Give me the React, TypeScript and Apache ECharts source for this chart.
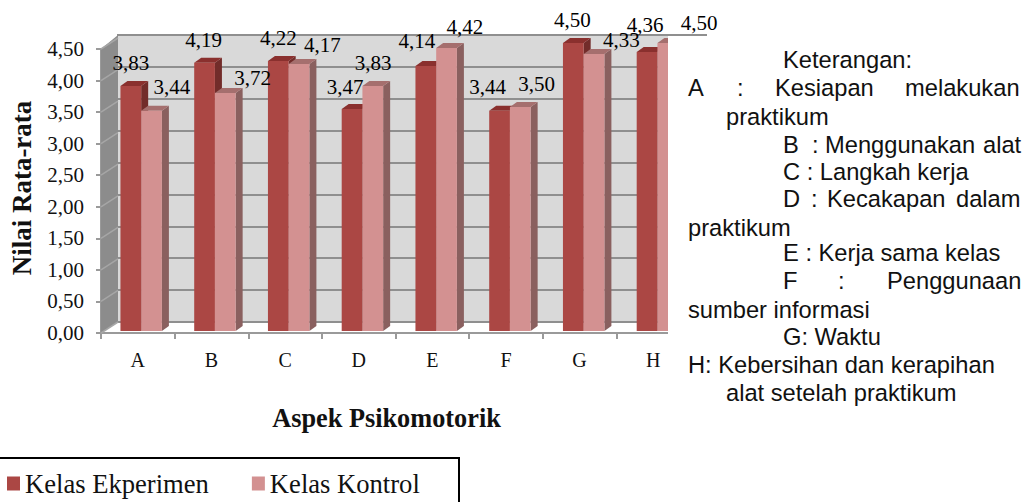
import React, { useEffect, useRef } from "react";
import * as echarts from "echarts";

const categories = ["A", "B", "C", "D", "E", "F", "G", "H"];
const eksperimen = [3.83, 4.19, 4.22, 3.47, 4.14, 3.44, 4.5, 4.36];
const kontrol = [3.44, 3.72, 4.17, 3.83, 4.42, 3.5, 4.33, 4.5];
const yMax = 4.5;
const yStep = 0.5;
const yTicks = [0, 0.5, 1, 1.5, 2, 2.5, 3, 3.5, 4, 4.5];

// Manual data label placement of the original, relative to category centre / bar top
const eksperimenLabelOffset = [[-6, -23], [-7, -23], [-6, -23], [-13, -22], [-15, -25], [-18, -24], [-7, -23], [-8, -27]];
const kontrolLabelOffset = [[35, -24], [42, -15], [38, -19], [15, -23], [33, -21], [31, -23], [42, -14], [46, -20]];

const NOTE_FONT = '23.7px "Liberation Sans", Arial, sans-serif';
const noteWords: [string, number, number][] = [
  ["Keterangan:", 783, 60],
  ["A", 688, 88], [":", 737, 88], ["Kesiapan", 775, 88], ["melakukan", 905, 88],
  ["praktikum", 726, 117],
  ["B", 783, 145], [":", 812, 145], ["Menggunakan", 825, 145], ["alat", 983, 145],
  ["C : Langkah kerja", 783, 172],
  ["D", 783, 199], [":", 811, 199], ["Kecakapan", 827, 199], ["dalam", 956, 199],
  ["praktikum", 688, 228],
  ["E : Kerja sama kelas", 783, 253],
  ["F", 783, 281], [":", 838, 281], ["Penggunaan", 887, 281],
  ["sumber informasi", 688, 310],
  ["G: Waktu", 783, 337],
  ["H: Kebersihan dan kerapihan", 688, 365],
  ["alat setelah praktikum", 726, 393],
];

const SERIF = '"Liberation Serif", "Times New Roman", serif';
const DEPTH_X = 17;
const DEPTH_Y = 11;
const BAR_SHIFT = 4.3;
const AXIS_GRAY = "#9a9a9a";

const fmt = (v: number) => v.toFixed(2).replace(".", ",");

function barRenderer(side: -1 | 1, front: string, top: string, right: string) {
  return (_p: any, api: any) => {
    const c = api.coord([api.value(0), api.value(1)]);
    const base = api.coord([api.value(0), 0]);
    const w = api.size([1, 0])[0] * 0.281;
    const x0 = (side < 0 ? c[0] - w : c[0]) + BAR_SHIFT;
    const x1 = x0 + w;
    const dx = 7;
    const dy = 5;
    const y0 = c[1];
    const y1 = base[1];
    return {
      type: "group",
      children: [
        { type: "polygon", shape: { points: [[x1, y0], [x1 + dx, y0 - dy], [x1 + dx, y1 - dy], [x1, y1]] }, style: { fill: right } },
        { type: "polygon", shape: { points: [[x0, y0], [x0 + dx, y0 - dy], [x1 + dx, y0 - dy], [x1, y0]] }, style: { fill: top } },
        { type: "rect", shape: { x: x0, y: y0, width: w, height: y1 - y0 }, style: { fill: front } },
      ],
    };
  };
}

export default function App() {
  const ref = useRef<HTMLDivElement>(null);
  useEffect(() => {
    const chart = echarts.init(ref.current!, undefined, { renderer: "svg" });
    const labelSeries = (values: number[], offs: number[][]) => ({
      type: "scatter",
      xAxisIndex: 2,
      yAxisIndex: 2,
      z: 10,
      silent: true,
      symbolSize: 1,
      itemStyle: { color: "#fff", opacity: 0 },
      data: values.map((v, i) => ({
        value: [i, v],
        label: { offset: offs[i] },
      })),
      label: {
        show: true,
        position: "inside",
        color: "#000",
        opacity: 1,
        fontFamily: SERIF,
        fontSize: 21,
        formatter: (p: any) => fmt(p.value[1]),
      },
    });
    chart.setOption({
      animation: false,
      backgroundColor: "#fff",
      legend: {
        left: 2,
        top: 465,
        data: ["Kelas Ekperimen", "Kelas Kontrol"],
        icon: "rect",
        itemWidth: 13,
        itemHeight: 14,
        itemGap: 43,
        textStyle: { fontFamily: SERIF, fontSize: 26.6, color: "#111" },
      },
      grid: [
        { left: 100, top: 49, width: 590, height: 284 },
        { left: 117, top: 35, width: 590, height: 287, show: true, backgroundColor: "#d9d9d9", borderWidth: 0 },
        { left: 100, top: 43, width: 590, height: 288 },
      ],
      xAxis: [
        {
          type: "category",
          gridIndex: 0,
          data: categories,
          boundaryGap: true,
          axisLine: { lineStyle: { color: AXIS_GRAY, width: 2 } },
          axisTick: { show: true, length: 6, alignWithLabel: false, lineStyle: { color: AXIS_GRAY, width: 2 } },
          axisLabel: { fontFamily: SERIF, fontSize: 20, color: "#111", margin: 17 },
          name: "Aspek Psikomotorik",
          nameLocation: "middle",
          nameGap: 72,
          nameTextStyle: { fontFamily: SERIF, fontSize: 26.3, fontWeight: "bold", color: "#111", padding: [0, 18, 0, 0] },
        },
        { type: "category", gridIndex: 1, data: categories, show: false },
        { type: "category", gridIndex: 2, data: categories, show: false },
      ],
      yAxis: [
        {
          type: "value",
          gridIndex: 0,
          min: 0,
          max: yMax,
          interval: yStep,
          splitLine: { show: false },
          axisLine: { show: true, lineStyle: { color: AXIS_GRAY, width: 2 } },
          axisTick: { show: true, length: 5, lineStyle: { color: AXIS_GRAY, width: 2 } },
          axisLabel: { fontFamily: SERIF, fontSize: 21, color: "#111", margin: 17, formatter: (v: number) => fmt(v) },
          name: "Nilai Rata-rata",
          nameLocation: "middle",
          nameGap: 66,
          nameTextStyle: { fontFamily: SERIF, fontSize: 27, fontWeight: "bold", color: "#111", padding: [0, 0, 0, 6] },
        },
        {
          type: "value",
          gridIndex: 1,
          min: 0,
          max: yMax,
          interval: yStep,
          axisLine: { show: false },
          axisTick: { show: false },
          axisLabel: { show: false },
          splitLine: { show: true, lineStyle: { color: "#8f8f8f", width: 2 } },
        },
        { type: "value", gridIndex: 2, min: 0, max: yMax, show: false },
      ],
      series: [
        {
          type: "custom",
          name: "wall",
          xAxisIndex: 0,
          yAxisIndex: 0,
          z: 1,
          silent: true,
          data: yTicks.map((t) => [0, t]),
          encode: { x: 0, y: 1 },
          renderItem: (p: any, api: any) => {
            const cs = p.coordSys;
            const y = api.coord([0, api.value(1)])[1];
            const children: any[] = [];
            if (p.dataIndex === 0) {
              children.push({
                type: "polygon",
                shape: {
                  points: [
                    [cs.x, cs.y],
                    [cs.x + DEPTH_X, cs.y - DEPTH_Y - 3],
                    [cs.x + DEPTH_X, cs.y + cs.height - DEPTH_Y],
                    [cs.x, cs.y + cs.height],
                  ],
                },
                style: { fill: "#8c8c8c" },
              });
            }
            children.push({
              type: "line",
              z2: 5,
              shape: { x1: cs.x, y1: y, x2: cs.x + DEPTH_X, y2: y - DEPTH_Y },
              style: { stroke: "#a6a6a6", lineWidth: 1.5 },
            });
            return { type: "group", children };
          },
        },
        {
          type: "custom",
          name: "Kelas Ekperimen",
          xAxisIndex: 2,
          yAxisIndex: 2,
          z: 3,
          itemStyle: { color: "#ab4744" },
          data: eksperimen.map((v, i) => [i, v]),
          encode: { x: 0, y: 1 },
          renderItem: barRenderer(-1, "#ab4744", "#8a302e", "#722c2a"),
        },
        {
          type: "custom",
          name: "Kelas Kontrol",
          xAxisIndex: 2,
          yAxisIndex: 2,
          z: 4,
          itemStyle: { color: "#d39191" },
          data: kontrol.map((v, i) => [i, v]),
          encode: { x: 0, y: 1 },
          renderItem: barRenderer(1, "#d39191", "#a56f6e", "#8a605f"),
        },
        labelSeries(eksperimen, eksperimenLabelOffset),
        labelSeries(kontrol, kontrolLabelOffset),
      ],
      graphic: [
        { type: "rect", z: 6, shape: { x: 668, y: 36, width: 360, height: 420 }, style: { fill: "#fff" } },
        { type: "rect", z: 6, shape: { x: -5, y: 458, width: 464, height: 60 }, style: { fill: "none", stroke: "#000", lineWidth: 2 } },
        ...noteWords.map(([text, x, y]) => ({
          type: "text",
          z: 20,
          x,
          y,
          style: { text, font: NOTE_FONT, fill: "#111", textVerticalAlign: "middle" },
        })),
      ],
    });
    return () => chart.dispose();
  }, []);
  return <div ref={ref} style={{ position: "absolute", left: 0, top: 0, width: 1025, height: 502 }} />;
}
